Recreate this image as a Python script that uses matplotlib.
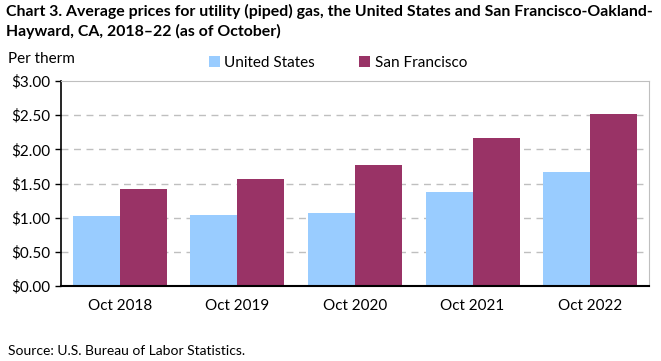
import matplotlib
matplotlib.use("Agg")
import matplotlib.pyplot as plt
import numpy as np

categories = ["Oct 2018", "Oct 2019", "Oct 2020", "Oct 2021", "Oct 2022"]
us_values = [1.02, 1.04, 1.07, 1.38, 1.67]
sf_values = [1.42, 1.57, 1.77, 2.17, 2.52]
yticks = [0.0, 0.5, 1.0, 1.5, 2.0, 2.5, 3.0]

plt.rcParams['font.family'] = ['Lato', 'DejaVu Sans']

fig = plt.figure(figsize=(6.61, 3.61), dpi=100)
ax = fig.add_axes([61/661, 1-286/361, (649-61)/661, (286-81)/361])

x = np.arange(len(categories))
w = 0.4
ax.bar(x - w/2, us_values, width=w, color="#99CCFF", label="United States", zorder=3)
ax.bar(x + w/2, sf_values, width=w, color="#993366", label="San Francisco", zorder=3)

ax.set_xlim(-0.5, len(categories) - 0.5)
ax.set_ylim(0, 3.0)
ax.set_yticks(yticks)
ax.set_yticklabels([f"${v:.2f}" for v in yticks], fontsize=11)
ax.set_xticks(x)
ax.set_xticklabels(categories, fontsize=11)
ax.tick_params(axis='x', length=0, pad=9)
ax.tick_params(axis='y', length=4, width=1, pad=4, color="black")

for v in yticks[1:-1]:
    ax.axhline(v, color="#BFBFBF", linestyle=(0, (5, 4)), linewidth=1, zorder=1)

ax.spines['left'].set_color('black')
ax.spines['left'].set_linewidth(1.2)
ax.spines['bottom'].set_color('black')
ax.spines['bottom'].set_linewidth(1.5)
ax.spines['bottom'].set_zorder(4)
ax.spines['top'].set_color('#BFBFBF')
ax.spines['right'].set_color('#BFBFBF')

fig.text(6/661, 1-4/361, "Chart 3. Average prices for utility (piped) gas, the United States and San Francisco-Oakland-\nHayward, CA, 2018\u201322 (as of October)",
         fontsize=11.4, fontweight='bold', ha='left', va='top', linespacing=1.4)
fig.text(8/661, 1-59/361, "Per therm", fontsize=11, ha='left', va='center')
leg = fig.legend(loc='center left', bbox_to_anchor=(209/661, 1-63/361), ncol=2, frameon=False,
                 fontsize=11, handlelength=0.7, handleheight=0.7, handletextpad=0.3, columnspacing=2.9,
                 borderaxespad=0, borderpad=0)
fig.text(8/661, 1-351/361, "Source: U.S. Bureau of Labor Statistics.", fontsize=10, ha='left', va='center')

fig.savefig("out.png", dpi=100)
